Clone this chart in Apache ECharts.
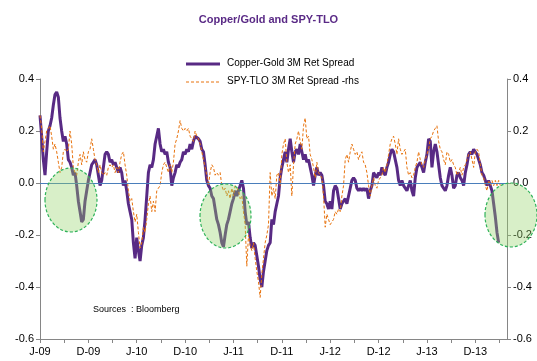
<!DOCTYPE html>
<html><head><meta charset="utf-8">
<script src="https://cdn.jsdelivr.net/npm/echarts@6/dist/echarts.min.js"></script>
<style>html,body{margin:0;padding:0;background:#fff}#c{width:537px;height:361px}</style>
</head><body><div id="c"></div>
<script>
const titleText = 'Copper/Gold and SPY-TLO';
const seriesNames = ['Copper-Gold 3M Ret Spread', 'SPY-TLO 3M Ret Spread -rhs'];
const xTickLabels = ['J-09','D-09','J-10','D-10','J-11','D-11','J-12','D-12','J-13','D-13'];
const yTicks = [-0.6, -0.4, -0.2, 0.0, 0.2, 0.4];
const sourceText = 'Sources  : Bloomberg';

const copperGold = [
 0.26,0.18,0.09,0.03,0.12,0.20,0.22,0.25,0.30,0.34,0.35,0.33,0.25,0.20,0.16,0.18,0.15,0.09,0.08,0.06,
 0.03,0.04,-0.01,-0.07,-0.11,-0.15,-0.14,-0.07,-0.03,0.01,0.04,0.07,0.08,0.09,0.07,0.03,-0.01,0.01,0.06,0.11,
 0.12,0.11,0.08,0.09,0.07,0.08,0.06,0.04,0.06,0.04,-0.01,0.01,-0.03,-0.08,-0.11,-0.14,-0.23,-0.29,-0.21,-0.26,
 -0.30,-0.24,-0.21,-0.14,-0.05,0.04,0.07,0.06,0.09,
 0.15,0.18,0.21,0.15,0.12,0.13,0.11,0.12,0.08,0.06,-0.01,0.02,0.04,0.07,0.06,0.08,0.09,0.12,0.11,0.13,
 0.12,0.15,0.13,0.16,0.18,0.18,0.17,0.16,0.13,0.12,0.07,0.01,-0.01,-0.02,-0.05,-0.06,-0.10,-0.14,-0.16,-0.19,
 -0.23,-0.245,-0.20,-0.16,-0.14,-0.11,-0.08,-0.06,-0.03,-0.05,-0.03,-0.01,0.01,-0.02,-0.11,-0.16,-0.15,-0.21,-0.25,-0.23,
 -0.24,-0.28,-0.32,-0.37,-0.40,-0.34,-0.30,-0.26,-0.24,
 -0.23,-0.14,-0.16,-0.11,-0.08,-0.05,0.02,0.06,0.09,0.12,0.08,0.13,0.17,0.12,0.08,0.12,0.13,0.11,0.15,0.12,
 0.09,0.11,0.08,0.09,0.06,0.03,-0.01,0.03,0.06,0.03,0.04,0.03,-0.01,-0.07,-0.08,-0.10,-0.07,-0.10,-0.03,-0.01,
 -0.02,-0.06,-0.10,-0.08,-0.07,-0.06,-0.08,-0.05,-0.02,0.01,0.02,0.01,-0.02,-0.03,-0.02,-0.03,-0.02,-0.03,-0.02,-0.06,
 -0.03,-0.01,0.04,0.03,0.02,0.04,0.03,0.06,0.04,
 0.03,0.06,0.08,0.11,0.13,0.12,0.09,0.06,0.01,-0.01,0.01,-0.01,-0.02,-0.03,-0.01,0.01,-0.03,-0.05,0.02,0.06,
 0.07,0.08,0.06,0.04,0.08,0.11,0.17,0.16,0.06,0.12,0.15,0.12,0.07,0.02,-0.01,-0.02,-0.03,-0.01,0.03,0.06,
 0.03,-0.02,-0.01,0.03,0.04,0.02,0.01,-0.01,0.04,0.07,0.11,0.12,0.11,0.13,0.12,0.11,0.09,0.07,0.04,0.03,
 0.01,-0.01,0.01,-0.01,-0.03,-0.08,-0.13,-0.19,-0.23
];
const spyTlo = [
 0.26,0.21,0.12,0.16,0.20,0.21,0.22,0.18,0.13,0.15,0.12,0.08,0.04,0.06,0.12,0.13,0.12,0.13,0.20,0.15,
 0.06,0.04,0.03,0.08,0.11,0.07,0.12,0.09,0.08,0.12,0.13,0.17,0.13,0.09,0.07,0.04,0.07,0.04,0.03,0.04,
 0.03,0.06,0.07,0.06,0.07,0.04,0.06,0.04,0.08,0.11,0.12,0.07,0.03,-0.03,-0.07,-0.06,-0.11,-0.15,-0.12,-0.19,
 -0.25,-0.23,-0.17,-0.19,-0.14,-0.08,-0.05,-0.11,-0.07,
 -0.11,-0.03,-0.02,-0.01,0.04,0.07,0.08,0.06,0.04,0.07,0.04,0.08,0.15,0.17,0.20,0.24,0.21,0.20,0.21,0.20,
 0.21,0.18,0.17,0.16,0.20,0.18,0.17,0.15,0.12,0.09,0.06,0.03,-0.01,0.04,0.07,0.06,0.03,0.04,0.03,0.04,
 -0.01,-0.03,-0.02,-0.05,-0.03,-0.06,-0.02,-0.05,-0.01,-0.02,-0.03,-0.06,-0.05,-0.11,-0.16,-0.32,-0.20,-0.24,-0.26,-0.23,
 -0.29,-0.34,-0.38,-0.44,-0.35,-0.29,-0.23,-0.20,-0.16,
 0.04,-0.05,-0.02,-0.06,0.03,0.04,-0.01,0.11,0.15,0.17,0.08,0.04,0.07,-0.05,0.07,0.15,0.17,0.20,0.16,0.13,
 0.22,0.25,0.17,0.18,0.11,0.09,0.06,0.02,0.08,0.04,0.03,0.02,-0.05,-0.17,-0.12,-0.14,-0.16,-0.15,-0.14,-0.11,
 -0.12,-0.10,-0.11,-0.05,-0.01,0.09,0.11,0.08,0.12,0.15,0.13,0.11,0.12,0.09,0.11,0.12,0.08,0.07,0.04,-0.01,
 -0.05,-0.01,0.02,-0.01,-0.02,0.01,0.02,0.03,0.06,
 0.04,0.07,0.11,0.15,0.17,0.18,0.15,0.11,0.17,0.13,0.11,0.12,0.13,0.06,0.03,0.04,0.02,0.03,0.06,0.08,
 0.12,0.09,0.07,0.06,0.09,0.11,0.13,0.17,0.18,0.20,0.21,0.22,0.16,0.13,0.12,0.09,0.07,0.12,0.11,0.08,
 0.09,0.07,0.06,0.03,0.04,0.06,0.03,0.06,0.07,0.09,0.11,0.12,0.09,0.06,0.12,0.13,0.12,0.07,0.03,0.02,
 -0.01,-0.03,0.01,-0.01,0.01,-0.01,0.01,-0.01,0.01,-0.01
];

const PURPLE = '#582a84';
const ORANGE = '#e8720c';
const FONT = 'Liberation Sans, Arial, sans-serif';
const tickStep = 14.5;

const chart = echarts.init(document.getElementById('c'), null, {renderer: 'canvas'});
const yAxisBase = (pos) => ({
  type: 'value', position: pos, min: -0.6, max: 0.4, interval: 0.2,
  axisLine: {show: true, lineStyle: {color: '#868686', width: 1}},
  axisTick: {show: true, length: 4, inside: false, lineStyle: {color: '#868686'}},
  axisLabel: {color: '#000', fontSize: 11, fontFamily: FONT, margin: 6,
    formatter: v => (Math.abs(v) < 1e-9 ? 0 : v).toFixed(1)},
  splitLine: {show: false}
});
const ellipseStyle = {fill: 'rgba(147,211,103,0.36)', stroke: '#2fb25a', lineWidth: 1.2, lineDash: [3, 2]};
chart.setOption({
  animation: false,
  backgroundColor: '#fff',
  title: {text: titleText, left: 'center', top: 9,
    textStyle: {color: '#5a2a86', fontSize: 11, fontWeight: 'bold', fontFamily: FONT}},
  legend: {show: false},
  grid: {left: 40, right: 30, top: 79, bottom: 22, containLabel: false},
  xAxis: {type: 'value', min: 0, max: 280, interval: tickStep,
    axisLine: {show: true, onZero: false, lineStyle: {color: '#868686'}},
    axisTick: {show: true, length: 4, lineStyle: {color: '#868686'}},
    axisLabel: {color: '#000', fontSize: 11, fontFamily: FONT, margin: 7,
      showMaxLabel: false,
      formatter: v => { const i = Math.round(v / tickStep); return (i % 2 === 0 && Math.abs(v - i*tickStep) < 0.01) ? (xTickLabels[i/2] || '') : ''; }},
    splitLine: {show: false}},
  yAxis: [yAxisBase('left'), yAxisBase('right')],
  series: [
    {name: seriesNames[0], type: 'line', yAxisIndex: 0, showSymbol: false, symbol: 'none',
     data: copperGold.map((v, i) => [i, v]),
     lineStyle: {color: PURPLE, width: 3}, itemStyle: {color: PURPLE},
     markLine: {silent: true, symbol: 'none', label: {show: false},
       lineStyle: {color: '#4a7ebb', width: 1, type: 'solid'}, data: [{yAxis: 0}]}},
    {name: seriesNames[1], type: 'line', yAxisIndex: 1, showSymbol: false, symbol: 'none',
     data: spyTlo.map((v, i) => [i, v]),
     lineStyle: {color: ORANGE, width: 1, type: [3, 2]}, itemStyle: {color: ORANGE}}
  ],
  graphic: [
    {type: 'line', shape: {x1: 186, y1: 64, x2: 220, y2: 64}, style: {stroke: PURPLE, lineWidth: 3}},
    {type: 'text', left: 227, top: 58, style: {text: seriesNames[0], fill: '#000', fontSize: 10, fontFamily: FONT}},
    {type: 'line', shape: {x1: 186, y1: 82, x2: 220, y2: 82}, style: {stroke: ORANGE, lineWidth: 1, lineDash: [3, 2]}},
    {type: 'text', left: 227, top: 76, style: {text: seriesNames[1], fill: '#000', fontSize: 10, fontFamily: FONT}},
    {type: 'text', left: 93, top: 305, style: {text: sourceText, fill: '#000', fontSize: 9, fontFamily: FONT}},
    {type: 'ellipse', z: 100, shape: {cx: 71, cy: 200, rx: 26, ry: 32}, style: ellipseStyle},
    {type: 'ellipse', z: 100, shape: {cx: 225.5, cy: 216, rx: 25.5, ry: 32}, style: ellipseStyle},
    {type: 'ellipse', z: 100, shape: {cx: 511, cy: 215, rx: 26, ry: 32}, style: ellipseStyle}
  ]
});
</script></body></html>
